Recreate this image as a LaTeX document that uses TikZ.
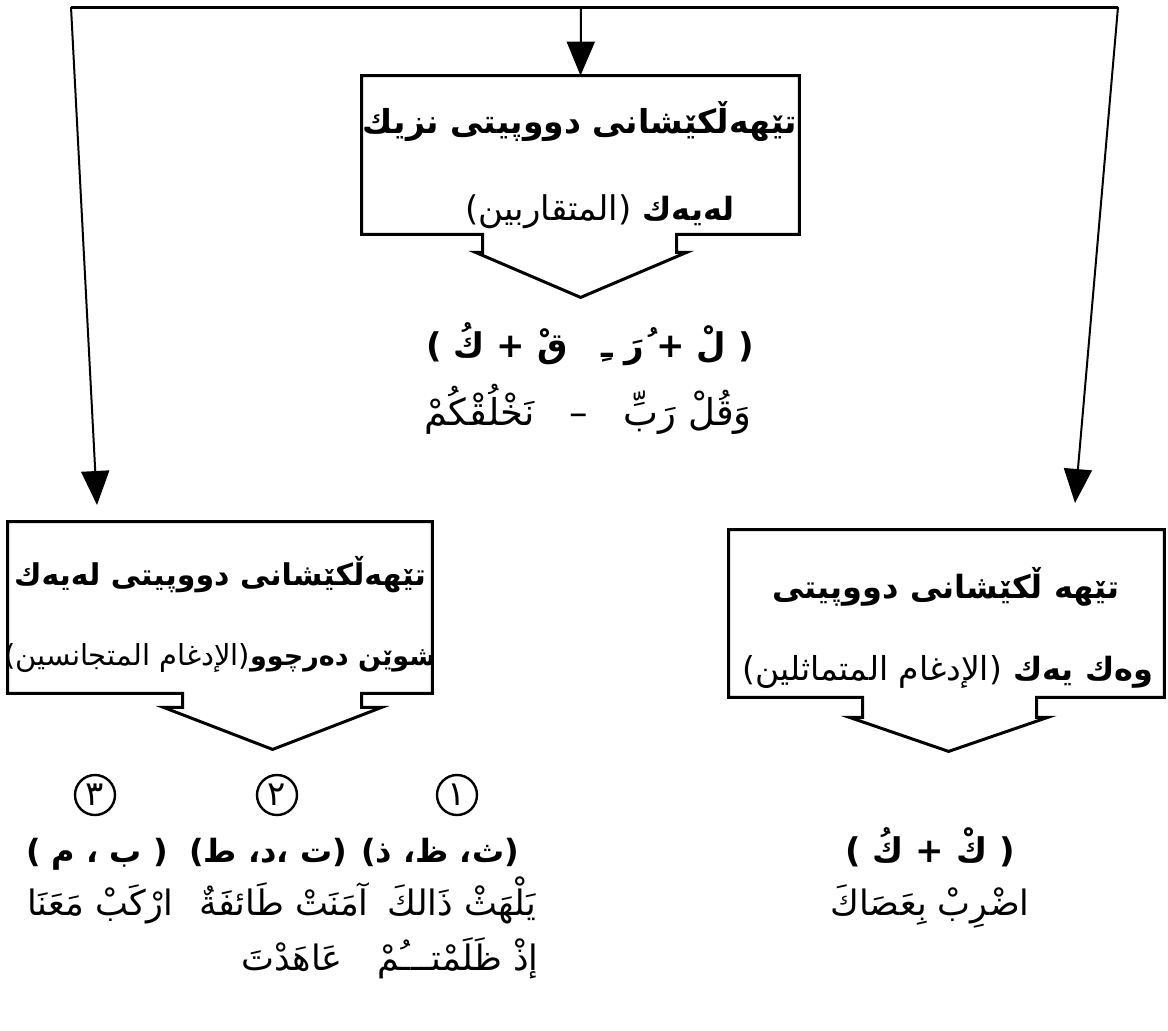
\documentclass[tikz,border=0pt]{standalone}
\usepackage{fontspec}
\newfontfamily\ar[Script=Arabic]{DejaVu Sans}
\TeXXeTstate=1
\usetikzlibrary{arrows.meta,calc}
\newcommand{\fs}[1]{\fontsize{#1}{#1}\selectfont}
\begin{document}
\begin{tikzpicture}[x=0.5pt,y=-0.5pt,
  bar/.style={line width=1.5pt},
  arr/.style={line width=1pt,-{Triangle[length=17pt,width=14pt]}},
  frame/.style={line width=1.5pt, line join=miter},
  boxarea/.style={inner sep=0pt, draw=none},
  hd/.style={font=\ar\bfseries\fs{16}, inner sep=0pt, anchor=base},
  tx/.style={font=\ar\fs{17.5}, inner sep=0pt, anchor=base},
  num/.style={draw, circle, line width=1.2pt, minimum size=20pt, inner sep=0pt, font=\ar\fs{17}}
]
\fill[white] (0,0) rectangle (1168,1030);
\useasboundingbox (0,0) rectangle (1168,1030);

% junction points on the top bar
\coordinate (tl) at (71,7);
\coordinate (tm) at (581,7);
\coordinate (tr) at (1118,7);
\coordinate (la) at (97,505);
\coordinate (ra) at (1075,503);

% boxes
\node[boxarea, minimum width=218.5pt, minimum height=79pt] (mb) at (580.5,155) {};
\node[boxarea, minimum width=212pt, minimum height=85.5pt] (lb) at (220,607.5) {};
\node[boxarea, minimum width=217.5pt, minimum height=83.5pt] (rb) at (946.5,613.5) {};

% outlines with chevrons
\draw[frame] (mb.south west) -- (mb.north west) -- (mb.north east) -- (mb.south east)
  -- ($(mb.south west)+(315,0)$) -- ++(0,18) -- ++(10,0)
  -- ($(mb.south west)+(219,63)$) -- ($(mb.south west)+(114,18)$) -- ++(7,0) -- ++(0,-18) -- cycle;
\draw[frame] (lb.south west) -- (lb.north west) -- (lb.north east) -- (lb.south east)
  -- ($(lb.south west)+(354,0)$) -- ++(0,14) -- ++(20,0)
  -- ($(lb.south west)+(265,56)$) -- ($(lb.south west)+(156,14)$) -- ++(19,0) -- ++(0,-14) -- cycle;
\draw[frame] (rb.south west) -- (rb.north west) -- (rb.north east) -- (rb.south east)
  -- ($(rb.south west)+(308,0)$) -- ++(0,20) -- ++(11,0)
  -- ($(rb.south west)+(220,54)$) -- ($(rb.south west)+(121,20)$) -- ++(13,0) -- ++(0,-20) -- cycle;

% connectors
\draw[bar] (tl) -- (tr);
\draw[arr] (tm) -- (mb.north);
\draw[arr] (tl) -- (la);
\draw[arr] (tr) -- (ra);

% middle box texts
\node[hd, font=\ar\bfseries\fs{16.5}] (m1) at (580,133) {\beginR تێهەڵكێشانی دووپیتی نزیك\endR};
\node[hd] (m2) at (600,220) {\beginR لەیەك {\mdseries\fs{17}(المتقاربين)}\endR};
\node[hd, font=\ar\bfseries\fs{17}] (m3) at (590,357) {\beginR( لْ + ُرَ ـِ\quad قْ + كُ )\endR};
\node[tx, font=\ar\fs{18.5}] (m4) at (588,425) {\beginR وَقُلْ رَبِّ \ \ – \ \ نَخْلُقْكُمْ\endR};

% left box texts
\node[hd, font=\ar\bfseries\fs{15}] (l1) at (220,585) {\beginR تێهەڵكێشانی دووپیتی لەیەك\endR};
\node[hd, font=\ar\bfseries\fs{13.5}] (l2) at (220,665) {\beginR شوێن دەرچوو{\mdseries\fs{14.5}(الإدغام المتجانسين)}\endR};

% right box texts
\node[hd] (r1) at (946,598) {\beginR تێهە ڵكێشانی دووپیتی\endR};
\node[hd] (r2) at (948,680) {\beginR وەك یەك {\mdseries\fs{16.5}(الإدغام المتماثلين)}\endR};

% numbered columns
\node[num] (c1) at (457,795) {١};
\node[num] (c2) at (277,795) {٢};
\node[num] (c3) at (95,795) {٣};

\node[hd] (p1) at (440,862) {\beginR(ث، ظ، ذ)\endR};
\node[hd] (p2) at (268,862) {\beginR(ت ،د، ط)\endR};
\node[hd] (p3) at (97,862) {\beginR( ب ، م )\endR};

\node[tx] (e1) at (462,915) {\beginR یَلْهَثْ ذَالكَ\endR};
\node[tx] (e2) at (284,915) {\beginR آمَنَتْ طَائفَةٌ\endR};
\node[tx] (e3) at (100,915) {\beginR ارْكَبْ مَعَنَا\endR};
\node[tx] (e4) at (458,970) {\beginR إذْ ظَلَمْتـــُمْ\endR};
\node[tx] (e5) at (292,970) {\beginR عَاهَدْتَ\endR};

% right column
\node[hd, font=\ar\bfseries\fs{17}] (r3) at (930,862) {\beginR( كْ + كُ )\endR};
\node[tx] (r4) at (930,915) {\beginR اضْرِبْ بِعَصَاكَ\endR};
\end{tikzpicture}
\end{document}
